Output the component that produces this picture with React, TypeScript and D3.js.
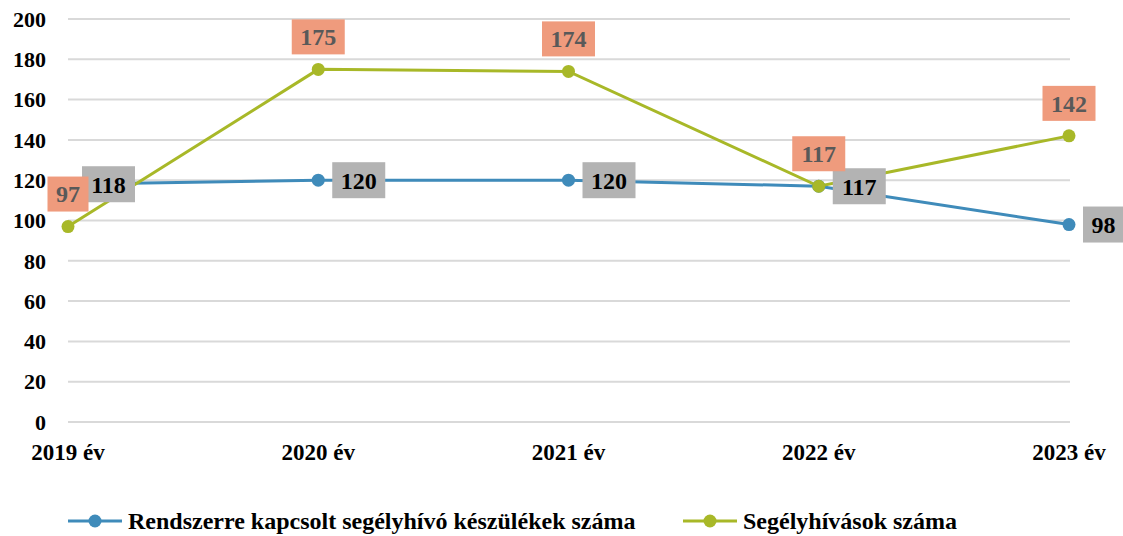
import React from "react";
import * as d3 from "d3";

const width = 1123;
const height = 536;
const margin = { top: 19, right: 54, bottom: 114, left: 68 };

const years = ["2019 év", "2020 év", "2021 év", "2022 év", "2023 év"];
const devices = [118, 120, 120, 117, 98];
const calls = [97, 175, 174, 117, 142];
const yTicks = [0, 20, 40, 60, 80, 100, 120, 140, 160, 180, 200];

const blue = "#3F8BBA";
const green = "#A8B828";
const font = "'Liberation Serif', 'Times New Roman', serif";

const App = () => {
  const x = d3
    .scalePoint()
    .domain(years)
    .range([margin.left, width - margin.right]);
  const y = d3
    .scaleLinear()
    .domain([0, 200])
    .range([height - margin.bottom, margin.top]);

  const line = d3
    .line<number>()
    .x((d, i) => x(years[i]) as number)
    .y(d => y(d));

  return (
    <svg width={width} height={height} style={{ position: "absolute", left: 0, top: 0 }}>
      <rect width={width} height={height} fill="#fff" />
      {yTicks.map(t => (
        <g key={t}>
          <line
            x1={margin.left}
            x2={width - margin.right + 1}
            y1={y(t)}
            y2={y(t)}
            stroke="#D9D9D9"
            strokeWidth={2}
          />
          <text
            x={46}
            y={y(t)}
            dy="0.35em"
            textAnchor="end"
            fontFamily={font}
            fontWeight="bold"
            fontSize={22}
          >
            {t}
          </text>
        </g>
      ))}
      {years.map(yr => (
        <text
          key={yr}
          x={x(yr)}
          y={y(0) + 30}
          dy="0.35em"
          textAnchor="middle"
          fontFamily={font}
          fontWeight="bold"
          fontSize={23}
        >
          {yr}
        </text>
      ))}

      <path d={line(devices) || ""} fill="none" stroke={blue} strokeWidth={3} />
      <path d={line(calls) || ""} fill="none" stroke={green} strokeWidth={3} />
      {devices.map((v, i) => (
        <circle key={"d" + i} cx={x(years[i])} cy={y(v)} r={6.5} fill={blue} />
      ))}
      {calls.map((v, i) => (
        <circle key={"c" + i} cx={x(years[i])} cy={y(v)} r={6.5} fill={green} />
      ))}

      {devices.map((v, i) => {
        const cx = (x(years[i]) as number) + 14;
        const cy = y(v);
        const w = String(v).length * 12 + 17;
        return (
          <g key={"dl" + i}>
            <rect x={cx} y={cy - 18} width={w} height={36} fill="#B3B3B3" />
            <text
              x={cx + w / 2}
              y={cy}
              dy="0.35em"
              textAnchor="middle"
              fontFamily={font}
              fontWeight="bold"
              fontSize={24}
              fill="#000"
            >
              {v}
            </text>
          </g>
        );
      })}
      {calls.map((v, i) => {
        const cx = x(years[i]) as number;
        const cy = y(v);
        const w = String(v).length * 12 + 17;
        return (
          <g key={"cl" + i}>
            <rect x={cx - w / 2} y={cy - 50} width={w} height={35} fill="#EF9B7D" />
            <text
              x={cx}
              y={cy - 32.5}
              dy="0.35em"
              textAnchor="middle"
              fontFamily={font}
              fontWeight="bold"
              fontSize={24}
              fill="#595959"
            >
              {v}
            </text>
          </g>
        );
      })}

      <g transform="translate(68,521)">
        <line x1={0} x2={54} y1={0} y2={0} stroke={blue} strokeWidth={3} />
        <circle cx={27} cy={0} r={6.5} fill={blue} />
        <text x={60} y={0} dy="0.35em" fontFamily={font} fontWeight="bold" fontSize={24}>
          Rendszerre kapcsolt segélyhívó készülékek száma
        </text>
      </g>
      <g transform="translate(683,521)">
        <line x1={0} x2={54} y1={0} y2={0} stroke={green} strokeWidth={3} />
        <circle cx={27} cy={0} r={6.5} fill={green} />
        <text x={60} y={0} dy="0.35em" fontFamily={font} fontWeight="bold" fontSize={24}>
          Segélyhívások száma
        </text>
      </g>
    </svg>
  );
};

export default App;
